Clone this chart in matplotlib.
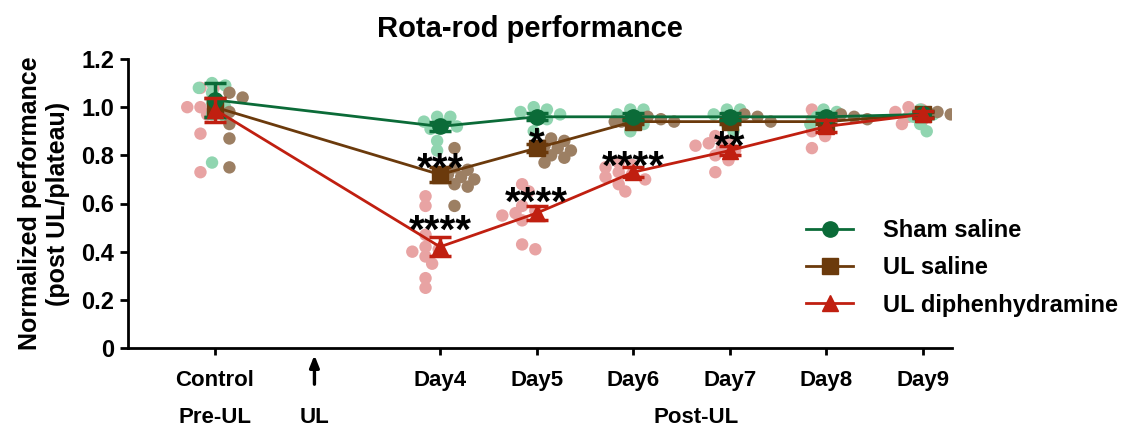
import matplotlib
matplotlib.use('Agg')
import matplotlib.pyplot as plt
from matplotlib.lines import Line2D

plt.rcParams['font.family'] = ['Liberation Sans', 'DejaVu Sans']
plt.rcParams['font.weight'] = 'bold'

# x positions of the groups: Control, Day4..Day9
xpos = [1.67, 4, 5, 6, 7, 8, 9]
xlabels = ['Control', 'Day4', 'Day5', 'Day6', 'Day7', 'Day8', 'Day9']
ul_x = 2.70

# group means and SEM
sham_mean = [1.03, 0.92, 0.96, 0.96, 0.96, 0.96, 0.97]
sham_sem = [0.07, 0.02, 0.015, 0.015, 0.015, 0.015, 0.015]
saline_mean = [1.00, 0.72, 0.83, 0.94, 0.94, 0.94, 0.97]
saline_sem = [0.04, 0.03, 0.015, 0.01, 0.01, 0.01, 0.01]
diph_mean = [0.99, 0.42, 0.56, 0.73, 0.82, 0.92, 0.97]
diph_sem = [0.05, 0.04, 0.03, 0.02, 0.02, 0.025, 0.015]

# individual animals, one list per x position
sham_pts = [
    [1.10, 1.09, 1.08, 1.06, 1.02, 1.00, 0.97, 0.96, 0.77],
    [0.96, 0.96, 0.94, 0.93, 0.92, 0.91, 0.86, 0.82],
    [1.00, 0.99, 0.98, 0.97, 0.96, 0.95, 0.90],
    [0.99, 0.99, 0.97, 0.95, 0.93, 0.90],
    [0.99, 0.99, 0.97, 0.93, 0.90],
    [0.99, 0.98, 0.96, 0.95, 0.93],
    [0.99, 0.97, 0.96, 0.93, 0.90],
]
saline_pts = [
    [1.26, 1.06, 1.04, 0.98, 0.93, 0.87, 0.75],
    [0.83, 0.75, 0.74, 0.72, 0.71, 0.70, 0.68, 0.67, 0.59],
    [0.87, 0.86, 0.84, 0.83, 0.82, 0.80, 0.79, 0.77],
    [0.96, 0.95, 0.95, 0.94, 0.94, 0.94],
    [0.97, 0.96, 0.95, 0.94],
    [0.97, 0.96, 0.96, 0.95],
    [0.98, 0.97, 0.96, 0.96],
]
diph_pts = [
    [1.24, 1.08, 1.08, 1.00, 1.00, 1.00, 0.97, 0.89, 0.73],
    [0.63, 0.59, 0.47, 0.42, 0.41, 0.40, 0.38, 0.35, 0.29, 0.25],
    [0.68, 0.65, 0.59, 0.57, 0.56, 0.55, 0.53, 0.43, 0.41],
    [0.77, 0.76, 0.75, 0.73, 0.72, 0.71, 0.70, 0.68, 0.65],
    [0.88, 0.86, 0.85, 0.84, 0.83, 0.82, 0.80, 0.78, 0.73],
    [0.99, 0.95, 0.93, 0.90, 0.88, 0.83],
    [1.00, 0.99, 0.98, 0.96, 0.94, 0.93],
]

# significance stars: (x, y, text)
stars = [(4, 0.785, '***'), (4, 0.53, '****'), (5, 0.89, '*'),
         (5, 0.645, '****'), (6, 0.795, '****'), (7, 0.88, '**')]

GREEN, GREEN_L = '#0b6b38', '#90d5b0'
BROWN, BROWN_L = '#6b3a0c', '#9c7f63'
RED, RED_L = '#c01f10', '#e8a3a3'


def swarm(vals, x0, xs=96.6, ys=241.0, d=11):
    # simple deterministic beeswarm in pixel space
    placed = []
    out = []
    for v in vals:
        for k in [0, 1, -1, 2, -2, 3, -3, 4, -4, 5, -5]:
            x = x0 + k * d * 0.6 / xs
            if all(((x - px) * xs) ** 2 + ((v - py) * ys) ** 2 >= d * d * 0.7 for px, py in placed):
                break
        placed.append((x, v))
        out.append(x)
    return out


fig = plt.figure(figsize=(11.28, 4.32), dpi=100)
ax = fig.add_axes([128 / 1128, 1 - 348 / 432, (952 - 128) / 1128, 289 / 432])

for pts, off, col in [(diph_pts, -0.15, RED_L), (sham_pts, -0.03, GREEN_L), (saline_pts, 0.15, BROWN_L)]:
    for x0, vals in zip(xpos, pts):
        ax.scatter(swarm(vals, x0 + off), vals, s=80, color=col, edgecolors='none', zorder=1)

for mean, sem, col, mk, ms, z, lab in [
        (saline_mean, saline_sem, BROWN, 's', 11, 3, 'UL saline'),
        (sham_mean, sham_sem, GREEN, 'o', 11, 4, 'Sham saline'),
        (diph_mean, diph_sem, RED, '^', 11, 5, 'UL diphenhydramine')]:
    ax.errorbar(xpos, mean, yerr=sem, color=col, marker=mk, markersize=ms, lw=2,
                capsize=8, capthick=2.5, elinewidth=2.5, zorder=z, label=lab)

for x, y, t in stars:
    ax.annotate(t, (x, y), xytext=(0, -16), textcoords='offset points', ha='center',
                va='baseline', fontsize=29, color='black', zorder=6)

ax.set_xlim(0.77, 9.3)
ax.set_ylim(0, 1.2)
ax.set_yticks([0, 0.2, 0.4, 0.6, 0.8, 1.0, 1.2])
ax.set_yticklabels(['0', '0.2', '0.4', '0.6', '0.8', '1.0', '1.2'])
ax.set_xticks(xpos)
ax.set_xticklabels(xlabels)
for s in ['top', 'right']:
    ax.spines[s].set_visible(False)
for s in ['left', 'bottom']:
    ax.spines[s].set_linewidth(2)
ax.tick_params(axis='y', length=6, width=2, pad=4, labelsize=17)
ax.tick_params(axis='x', length=5, width=2, pad=11, labelsize=16)
ax.set_ylabel('Normalized performance\n(post UL/plateau)', fontsize=18, fontweight='bold',
              labelpad=8, linespacing=1.2)
ax.set_title('Rota-rod performance', fontsize=21, fontweight='bold', pad=16, x=0.488)

tr = ax.get_xaxis_transform()
ax.annotate('', xy=(ul_x, -0.015), xytext=(ul_x, -0.135), xycoords=tr,
            arrowprops=dict(arrowstyle='-|>,head_length=0.7,head_width=0.28', lw=2.4, color='black'),
            annotation_clip=False)
for x, t in [(1.67, 'Pre-UL'), (ul_x, 'UL'), (6.65, 'Post-UL')]:
    ax.text(x, -0.24, t, transform=tr, ha='center', va='center', fontsize=16, fontweight='bold')

h = [Line2D([], [], color=GREEN, marker='o', markersize=11, lw=2),
     Line2D([], [], color=BROWN, marker='s', markersize=11, lw=2),
     Line2D([], [], color=RED, marker='^', markersize=11, lw=2)]
fig.legend(h, ['Sham saline', 'UL saline', 'UL diphenhydramine'], loc='center left',
           bbox_to_anchor=(806 / 1128, 1 - 268 / 432), frameon=False,
           borderaxespad=0, borderpad=0,
           handlelength=2.0, handletextpad=1.25, labelspacing=0.6,
           prop={'weight': 'bold', 'size': 17})

fig.savefig('out.png', dpi=100)
